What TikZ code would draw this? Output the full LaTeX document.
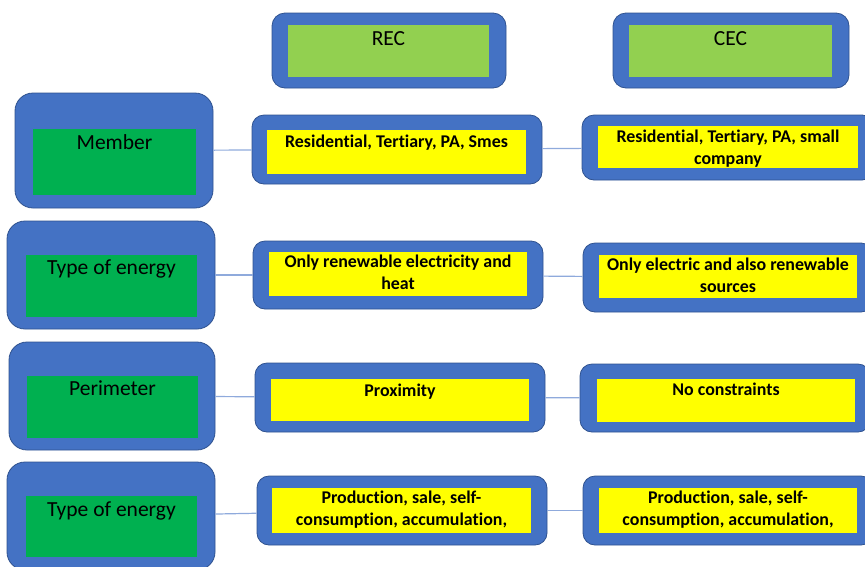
\documentclass[tikz,border=0pt]{standalone}
\usepackage{fontspec}
\setmainfont{Carlito}[RawFeature={-liga;-clig;-calt;-dlig}]
\definecolor{boxblue}{HTML}{4472C4}
\definecolor{boxedge}{HTML}{2F528F}
\definecolor{headgreen}{HTML}{92D050}
\definecolor{rowgreen}{HTML}{00B050}
\definecolor{cellyellow}{HTML}{FFFF00}
\definecolor{linkblue}{HTML}{8FAADC}
\begin{document}
\begin{tikzpicture}[
  x=1pt, y=-1pt,
  outer/.style={draw=boxedge, fill=boxblue, line width=0.8pt, inner sep=0pt},
  inner/.style={fill=#1, inner sep=0pt},
  head/.style={font=\fontsize{21.5}{24}\selectfont, anchor=base, inner sep=0pt},
  cell/.style={font=\fontsize{17.9}{22}\selectfont\bfseries, align=center, anchor=base, inner sep=0pt},
  link/.style={draw=linkblue, line width=1.2pt},
]
\useasboundingbox (0,0) rectangle (865,566);

% the two headings
\node[outer, rounded corners=13pt, minimum width=234pt, minimum height=75pt] (rec) at (389,50.5) {};
\node[inner=headgreen, minimum width=201pt, minimum height=52pt] (recIn) at (388.5,51) {};
\node[head] (recTxt) at (388.5,45) {REC};

\node[outer, rounded corners=13pt, minimum width=236pt, minimum height=75pt] (cec) at (731,50.5) {};
\node[inner=headgreen, minimum width=203pt, minimum height=52pt] (cecIn) at (730.5,51) {};
\node[head] (cecTxt) at (730.5,45) {CEC};

% the left column
\node[outer, rounded corners=18pt, minimum width=198pt, minimum height=115pt] (mem) at (114,150.5) {};
\node[inner=rowgreen, minimum width=163pt, minimum height=66pt] (memIn) at (114.5,162) {};
\node[head] (memTxt) at (114.5,149) {Member};

\node[outer, rounded corners=18pt, minimum width=208pt, minimum height=108pt] (typeA) at (111,275) {};
\node[inner=rowgreen, minimum width=171pt, minimum height=62pt] (typeAIn) at (111.5,286) {};
\node[head] (typeATxt) at (111.5,274.5) {Type of energy};

\node[outer, rounded corners=18pt, minimum width=206pt, minimum height=108pt] (peri) at (112,396) {};
\node[inner=rowgreen, minimum width=171pt, minimum height=62pt] (periIn) at (112.5,407) {};
\node[head] (periTxt) at (112.5,395) {Perimeter};

\node[outer, rounded corners=18pt, minimum width=208pt, minimum height=108pt] (typeB) at (111,516) {};
\node[inner=rowgreen, minimum width=171pt, minimum height=61pt] (typeBIn) at (111.5,526.5) {};
\node[head] (typeBTxt) at (111.5,516) {Type of energy};

% the REC column (two-line texts sit on their last baseline)
\node[outer, rounded corners=12pt, minimum width=290pt, minimum height=69pt] (recA) at (397,149.5) {};
\node[inner=cellyellow, minimum width=259pt, minimum height=44pt] (recAIn) at (396.5,152) {};
\node[cell] (recATxt) at (396.5,147.7) {Residential, Tertiary, PA, Smes};

\node[outer, rounded corners=12pt, minimum width=290pt, minimum height=68pt] (recB) at (398,275) {};
\node[inner=cellyellow, minimum width=258pt, minimum height=44pt] (recBIn) at (398,274) {};
\node[cell] (recBTxt) at (398,289) {Only renewable electricity and\\heat};

\node[outer, rounded corners=12pt, minimum width=290pt, minimum height=69pt] (recC) at (400,397.5) {};
\node[inner=cellyellow, minimum width=258pt, minimum height=42pt] (recCIn) at (400,400) {};
\node[cell] (recCTxt) at (400,396) {Proximity};

\node[outer, rounded corners=12pt, minimum width=290pt, minimum height=69pt] (recD) at (402,510.5) {};
\node[inner=cellyellow, minimum width=259pt, minimum height=45pt] (recDIn) at (401.5,510.5) {};
\node[cell] (recDTxt) at (401.5,525.5) {Production, sale, self-\\consumption, accumulation,};

% the CEC column
\node[outer, rounded corners=12pt, minimum width=292pt, minimum height=65pt] (cecA) at (728,147.5) {};
\node[inner=cellyellow, minimum width=260pt, minimum height=42pt] (cecAIn) at (728,147) {};
\node[cell] (cecATxt) at (728,164) {Residential, Tertiary, PA, small\\company};

\node[outer, rounded corners=12pt, minimum width=290pt, minimum height=69pt] (cecB) at (728,277.5) {};
\node[inner=cellyellow, minimum width=258pt, minimum height=43pt] (cecBIn) at (728,276.5) {};
\node[cell] (cecBTxt) at (728,292.7) {Only electric and also renewable\\sources};

\node[outer, rounded corners=12pt, minimum width=290pt, minimum height=68pt] (cecC) at (725,398) {};
\node[inner=cellyellow, minimum width=258pt, minimum height=43pt] (cecCIn) at (726,400.5) {};
\node[cell] (cecCTxt) at (726,395.7) {No constraints};

\node[outer, rounded corners=12pt, minimum width=290pt, minimum height=69pt] (cecD) at (728,510.5) {};
\node[inner=cellyellow, minimum width=258pt, minimum height=45pt] (cecDIn) at (728,510.5) {};
\node[cell] (cecDTxt) at (728,525.3) {Production, sale, self-\\consumption, accumulation,};

% the links of each row
\foreach \a/\b/\c in {mem/recA/cecA, typeA/recB/cecB, peri/recC/cecC, typeB/recD/cecD} {
  \draw[link] (\a) -- (\b);
  \draw[link] (\b) -- (\c);
}

\end{tikzpicture}
\end{document}
